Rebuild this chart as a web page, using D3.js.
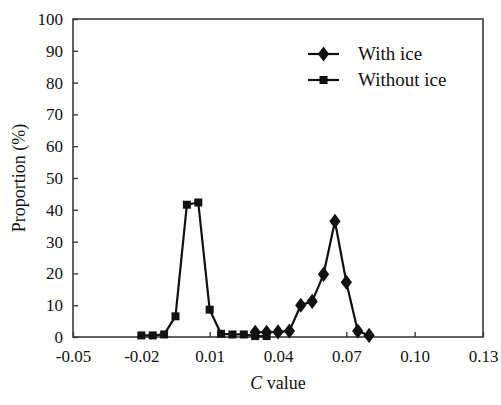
<!DOCTYPE html>
<html>
<head>
<meta charset="utf-8">
<script src="https://cdn.jsdelivr.net/npm/d3@7/dist/d3.min.js"></script>
<style>
  body { margin: 0; background: #fff; }
</style>
</head>
<body>
<svg id="chart" width="501" height="405"></svg>
<script>
// C value categories (x) for each series
const cWithIce = [0.03, 0.035, 0.04, 0.045, 0.05, 0.055, 0.06, 0.065, 0.07, 0.075, 0.08];
const pWithIce = [1.5, 1.5, 1.6, 1.9, 10.0, 11.2, 19.7, 36.4, 17.2, 1.9, 0.5];

const cWithoutIce = [-0.02, -0.015, -0.01, -0.005, 0, 0.005, 0.01, 0.015, 0.02, 0.025, 0.03, 0.035];
const pWithoutIce = [0.5, 0.5, 0.8, 6.5, 41.6, 42.3, 8.6, 1.0, 0.8, 0.8, 0.3, 0.3];

const xTicks = [-0.05, -0.02, 0.01, 0.04, 0.07, 0.10, 0.13];
const yTicks = [0, 10, 20, 30, 40, 50, 60, 70, 80, 90, 100];

const FONT = "'Liberation Serif', 'Times New Roman', serif";

const svg = d3.select('#chart');
const margin = {left: 73, right: 18, top: 19, bottom: 68};
const width = 501, height = 405;

const x = d3.scaleLinear().domain([-0.05, 0.13]).range([margin.left, width - margin.right]);
const y = d3.scaleLinear().domain([0, 100]).range([height - margin.bottom, margin.top]);

const frameColour = '#3a3a3a';

// frame around plot
svg.append('rect')
    .attr('x', x(-0.05)).attr('y', y(100))
    .attr('width', x(0.13) - x(-0.05)).attr('height', y(0) - y(100))
    .attr('fill', 'none').attr('stroke', frameColour).attr('stroke-width', 1.6);

// y axis, ticks pointing inward
const yAxis = svg.append('g').attr('transform', `translate(${x(-0.05)},0)`)
    .call(d3.axisLeft(y).tickValues(yTicks).tickSizeInner(-5).tickSizeOuter(0).tickPadding(10));
yAxis.attr('font-family', FONT).attr('font-size', 17);
yAxis.select('.domain').remove();
yAxis.selectAll('line').attr('stroke', frameColour).attr('stroke-width', 1.4);
yAxis.selectAll('text').attr('fill', '#111');

// x axis, ticks pointing inward; plain hyphen for negatives like the original
const fmt = d => d3.format('.2f')(d).replace('\u2212', '-');
const xAxis = svg.append('g').attr('transform', `translate(0,${y(0)})`)
    .call(d3.axisBottom(x).tickValues(xTicks).tickFormat(fmt).tickSizeInner(-5).tickSizeOuter(0).tickPadding(13));
xAxis.attr('font-family', FONT).attr('font-size', 17);
xAxis.select('.domain').remove();
xAxis.selectAll('line').attr('stroke', frameColour).attr('stroke-width', 1.4);
xAxis.selectAll('text').attr('fill', '#111');

// axis titles
svg.append('text')
    .attr('transform', `translate(25,${(y(0) + y(100)) / 2}) rotate(-90)`)
    .attr('text-anchor', 'middle').attr('font-size', 18).attr('font-family', FONT).attr('fill', '#111')
    .text('Proportion (%)');

const xt = svg.append('text')
    .attr('x', (x(-0.05) + x(0.13)) / 2).attr('y', 389)
    .attr('text-anchor', 'middle').attr('font-size', 18).attr('font-family', FONT).attr('fill', '#111');
xt.append('tspan').attr('font-style', 'italic').text('C');
xt.append('tspan').text(' value');

// series
const line = d3.line().x(d => x(d[0])).y(d => y(d[1]));
const withIce = cWithIce.map((c, i) => [c, pWithIce[i]]);
const withoutIce = cWithoutIce.map((c, i) => [c, pWithoutIce[i]]);

const plot = svg.append('g');

function drawSeries(data, symbolType, size) {
    plot.append('path').datum(data)
        .attr('d', line).attr('fill', 'none')
        .attr('stroke', '#111').attr('stroke-width', 2.2);
    plot.selectAll(null).data(data).join('path')
        .attr('transform', d => `translate(${x(d[0])},${y(d[1])})`)
        .attr('d', d3.symbol().type(symbolType).size(size))
        .attr('fill', '#111');
}

// diamond shaped like the original (taller than wide)
const diamond = {
    draw(ctx, size) {
        const h = Math.sqrt(size) * 0.72, w = h * 0.75;
        ctx.moveTo(0, -h); ctx.lineTo(w, 0); ctx.lineTo(0, h); ctx.lineTo(-w, 0); ctx.closePath();
    }
};

drawSeries(withoutIce, d3.symbolSquare, 64);
drawSeries(withIce, diamond, 110);

// legend
const legend = svg.append('g');
const legendItems = [
    {label: 'With ice', sym: diamond, size: 110, yy: 54},
    {label: 'Without ice', sym: d3.symbolSquare, size: 64, yy: 80}
];
legendItems.forEach(it => {
    legend.append('line').attr('x1', 308).attr('x2', 339).attr('y1', it.yy).attr('y2', it.yy)
        .attr('stroke', '#111').attr('stroke-width', 2.2);
    legend.append('path').attr('transform', `translate(323.5,${it.yy})`)
        .attr('d', d3.symbol().type(it.sym).size(it.size)).attr('fill', '#111');
    legend.append('text').attr('x', 358).attr('y', it.yy + 6).attr('font-size', 19)
        .attr('font-family', FONT).attr('fill', '#111').text(it.label);
});
</script>
</body>
</html>
